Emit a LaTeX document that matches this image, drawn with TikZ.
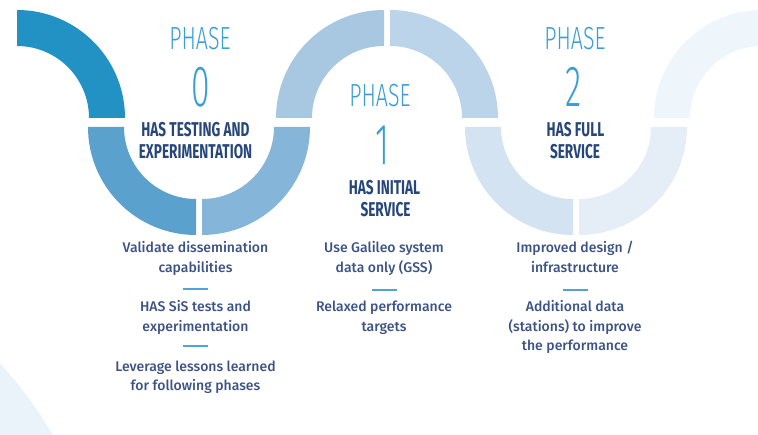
\documentclass[tikz,border=0pt]{standalone}
\usepackage{fontspec}
\setmainfont{Fira Sans}
\newfontfamily\lightfont{Fira Sans Light}
\newfontfamily\medfont{Fira Sans Medium}
\definecolor{cA}{HTML}{2291C4}
\definecolor{cB}{HTML}{5BA1CD}
\definecolor{cC}{HTML}{85B5D8}
\definecolor{cD}{HTML}{A8C8E2}
\definecolor{cE}{HTML}{BCD4E9}
\definecolor{cF}{HTML}{D3E3F1}
\definecolor{cG}{HTML}{E5EEF7}
\definecolor{cH}{HTML}{EEF5FB}
\definecolor{faint}{HTML}{EAF3FA}
\definecolor{phaseblue}{HTML}{3A9DD6}
\definecolor{navy}{HTML}{27477A}
\definecolor{bodyblue}{HTML}{3C5385}
\definecolor{sepblue}{HTML}{4FA3DA}
\newcommand\ringseg[5]{%
  \fill[#5] ([shift={(#3:108)}]#1,#2) arc[start angle=#3,end angle=#4,radius=108]
    -- ([shift={(#4:72)}]#1,#2) arc[start angle=#4,end angle=#3,radius=72] -- cycle;}
\newcommand\cx[2][0.67]{\scalebox{#1}[1]{#2}}
\begin{document}
\begin{tikzpicture}[x=1pt,y=-1pt,
  phasetxt/.style={text=phaseblue,font=\lightfont\fontsize{32}{32}\selectfont,anchor=base,inner sep=0pt},
  digit/.style={text=phaseblue,font=\lightfont\fontsize{58}{58}\selectfont,anchor=base,inner sep=0pt},
  head/.style={text=navy,font=\bfseries\fontsize{20}{20}\selectfont,anchor=base,inner sep=0pt},
  bodytxt/.style={text=bodyblue,font=\medfont\fontsize{14}{14}\selectfont,anchor=base,inner sep=0pt},
  sepline/.style={fill=sepblue,minimum width=25pt,minimum height=2pt,inner sep=0pt,draw=none}]
\useasboundingbox (0,0) rectangle (758,435);
\clip (0,0) rectangle (758,435);
% background shapes
\fill[faint] (-300,640) circle[radius=408];
\ringseg{17}{118}{270}{360}{cA}
\ringseg{196}{127}{90}{180}{cB}
\ringseg{202}{127}{0}{90}{cC}
\ringseg{384}{118}{180}{270}{cD}
\ringseg{390}{118}{270}{360}{cE}
\ringseg{573}{127}{90}{180}{cF}
\ringseg{579}{127}{0}{90}{cG}
\ringseg{762}{118}{180}{270}{cH}
% phase 0
\node[phasetxt] (p0) at (200,50) {\cx{PHASE}};
\node[digit] (n0) at (201,107) {\cx[0.58]{0}};
\node[head] (h0a) at (195.5,137) {\cx[0.68]{HAS TESTING AND}};
\node[head] (h0b) at (195.5,159) {\cx[0.68]{EXPERIMENTATION}};
% phase 1
\node[phasetxt] (p1) at (380,107) {\cx{PHASE}};
\node[digit] (n1) at (382,165) {\cx[0.58]{1}};
\node[head] (h1a) at (384.5,195) {\cx[0.68]{HAS INITIAL}};
\node[head] (h1b) at (385.5,217) {\cx[0.68]{SERVICE}};
% phase 2
\node[phasetxt] (p2) at (575,50) {\cx{PHASE}};
\node[digit] (n2) at (574,107) {\cx[0.58]{2}};
\node[head] (h2a) at (575.5,137) {\cx[0.68]{HAS FULL}};
\node[head] (h2b) at (575,159) {\cx[0.68]{SERVICE}};
% column 0
\node[bodytxt] (b0a) at (195.5,252.5) {Validate dissemination};
\node[bodytxt] (b0b) at (195.5,272.5) {capabilities};
\node[sepline] (s0a) at (195.5,289) {};
\node[bodytxt] (b0c) at (195.5,312) {HAS SiS tests and};
\node[bodytxt] (b0d) at (195.5,332) {experimentation};
\node[sepline] (s0b) at (195.5,346) {};
\node[bodytxt] (b0e) at (195.5,371.5) {Leverage lessons learned};
\node[bodytxt] (b0f) at (195.5,390.5) {for following phases};
% column 1
\node[bodytxt] (b1a) at (384,252.5) {Use Galileo system};
\node[bodytxt] (b1b) at (384,272.5) {data only (GSS)};
\node[sepline] (s1a) at (384,290) {};
\node[bodytxt] (b1c) at (384,312) {Relaxed performance};
\node[bodytxt] (b1d) at (384,332) {targets};
% column 2
\node[bodytxt] (b2a) at (575,252.5) {Improved design /};
\node[bodytxt] (b2b) at (575,272.5) {infrastructure};
\node[sepline] (s2a) at (575,290) {};
\node[bodytxt] (b2c) at (575,312) {Additional data};
\node[bodytxt] (b2d) at (575,332) {(stations) to improve};
\node[bodytxt] (b2e) at (575,351) {the performance};
\end{tikzpicture}
\end{document}
